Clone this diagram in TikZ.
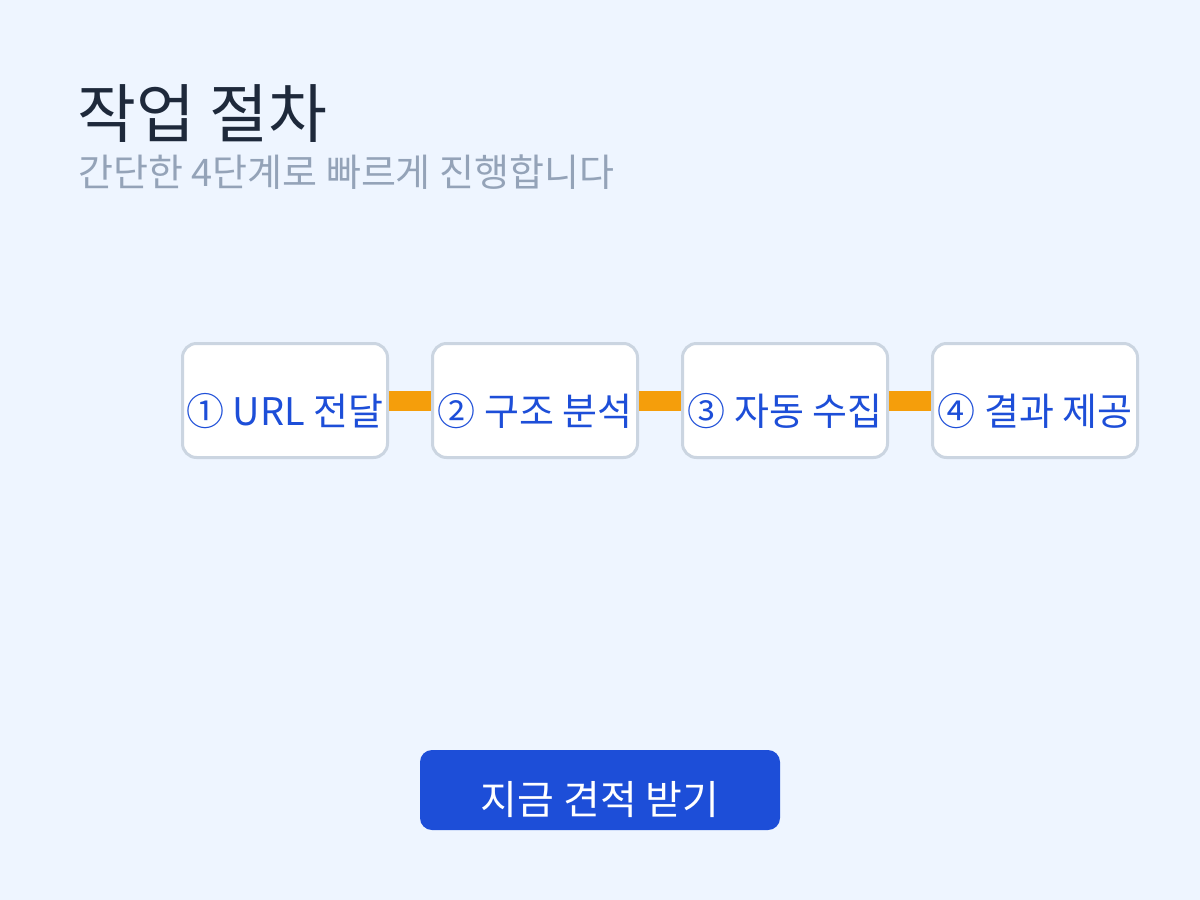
\documentclass[tikz,border=0pt]{standalone}
\usepackage{fontspec}
\setmainfont{Noto Sans CJK KR}
\usetikzlibrary{positioning}

\definecolor{pagebg}{HTML}{EEF5FF}
\definecolor{titleink}{HTML}{1E293B}
\definecolor{subink}{HTML}{94A3B8}
\definecolor{stepline}{HTML}{CBD5E1}
\definecolor{stepink}{HTML}{1D4ED8}
\definecolor{linkorange}{HTML}{F59E0B}
\definecolor{ctablue}{HTML}{1D4ED8}

\tikzset{
 stepbox/.style={draw=stepline, line width=3pt, fill=white, rounded corners=14pt,
   minimum width=205pt, minimum height=114pt, inner sep=0pt},
 steptext/.style={anchor=base, inner sep=0pt, text=stepink, font=\fontsize{38}{44}\selectfont},
 link/.style={linkorange, line width=20pt},
 ctabox/.style={fill=ctablue, rounded corners=12pt, minimum width=360pt, minimum height=80pt, inner sep=0pt},
}

\begin{document}
\begin{tikzpicture}[x=1pt,y=-1pt]
\fill[pagebg] (0,0) rectangle (1200,900);
\useasboundingbox (0,0) rectangle (1200,900);

% heading
\node[anchor=base west, inner sep=0pt, text=titleink, font=\fontsize{64}{70}\selectfont] (title) at (77,137) {작업 절차};
\node[anchor=base west, inner sep=0pt, text=subink, font=\fontsize{38}{44}\selectfont] (subtitle) at (78,186) {간단한 4단계로 빠르게 진행합니다};

% steps
\foreach \i/\txt [evaluate=\i as \cx using 285+250*(\i-1)] in {1/① URL 전달, 2/② 구조 분석, 3/③ 자동 수집, 4/④ 결과 제공} {
 \node[stepbox] (s\i) at (\cx,400.5) {};
 \node[steptext] (t\i) at (\cx,425) {\txt};
}
\foreach \a/\b in {1/2,2/3,3/4}
 \draw[link] (s\a.east) -- (s\b.west);

% call to action
\node[ctabox] (cta) at (600,790) {};
\node[anchor=base, inner sep=0pt, text=white, font=\fontsize{40}{44}\selectfont] (ctatext) at (600,814) {지금 견적 받기};
\end{tikzpicture}
\end{document}
